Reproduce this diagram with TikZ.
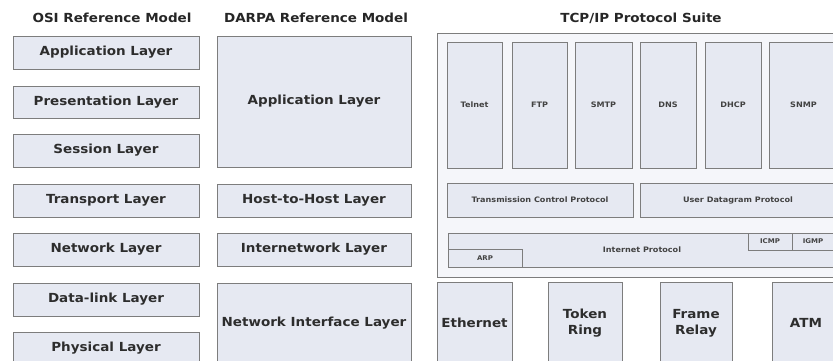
\documentclass[tikz,border=0pt]{standalone}
\usepackage{fontspec}
\setmainfont{DejaVu Sans}[FakeStretch=1.08]

\definecolor{boxfill}{RGB}{230,233,242}
\definecolor{boxline}{RGB}{125,125,125}
\definecolor{suitefill}{RGB}{245,246,250}
\definecolor{labeltext}{RGB}{45,45,45}

\tikzset{
  layer/.style={draw=boxline, fill=boxfill, line width=0.9pt, inner sep=0pt,
    font=\fontsize{12.5}{16}\selectfont\bfseries, text=labeltext, align=center},
  proto/.style={layer, font=\fontsize{7.5}{9}\selectfont\bfseries, text=labeltext!90},
  smallproto/.style={layer, font=\fontsize{6.5}{8}\selectfont\bfseries, text=labeltext!90},
  heading/.style={font=\fontsize{12.5}{15}\selectfont\bfseries, text=black!85},
  suite/.style={draw=boxline, fill=suitefill, line width=0.9pt, inner sep=0pt},
}

% \tile[style]{name}{x1}{y1}{x2}{y2}{text}: a box spanning two corners
\newcommand\tile[7][layer]{%
  \pgfmathsetmacro\tilew{#5-#3}%
  \pgfmathsetmacro\tileh{#6-#4}%
  \pgfmathsetmacro\tilex{(#3+#5)/2}%
  \pgfmathsetmacro\tiley{(#4+#6)/2}%
  \node[#1, minimum width=\tilew pt, minimum height=\tileh pt, anchor=center]
    (#2) at (\tilex,\tiley) {#7};%
}

\begin{document}
\begin{tikzpicture}[x=1pt,y=-1pt]
\useasboundingbox (0,0) rectangle (833,360);
\clip (0,0) rectangle (833,360);
\fill[white] (0,0) rectangle (833,360);

% column headings
\node[heading] (hosi)   at (112,18) {OSI Reference Model};
\node[heading] (hdarpa) at (316,18) {DARPA Reference Model};
\node[heading] (htcp)   at (641,18) {TCP/IP Protocol Suite};

% OSI reference model
\tile{osiapp}{13}{36}{199}{69}{Application Layer}
\tile{osipres}{13}{86}{199}{118}{Presentation Layer}
\tile{osisess}{13}{134}{199}{167}{Session Layer}
\tile{ositrans}{13}{184}{199}{217}{Transport Layer}
\tile{osinet}{13}{233}{199}{266}{Network Layer}
\tile{osidl}{13}{283}{199}{316}{Data-link Layer}
\tile{osiphy}{13}{332}{199}{364}{Physical Layer}

% DARPA reference model
\tile{dapp}{217}{36}{411}{167}{Application Layer}
\tile{dhost}{217}{184}{411}{217}{Host-to-Host Layer}
\tile{dinet}{217}{233}{411}{266}{Internetwork Layer}
\tile{dnif}{217}{283}{411}{364}{Network Interface Layer}

% TCP/IP protocol suite
\tile[suite]{suite}{437}{33}{845}{277}{}

\tile[proto]{telnet}{447}{42}{502}{168}{Telnet}
\tile[proto]{ftp}{512}{42}{567}{168}{FTP}
\tile[proto]{smtp}{575}{42}{632}{168}{SMTP}
\tile[proto]{dns}{640}{42}{696}{168}{DNS}
\tile[proto]{dhcp}{705}{42}{761}{168}{DHCP}
\tile[proto]{snmp}{769}{42}{838}{168}{SNMP}

\tile[proto]{tcp}{447}{183}{633}{217}{Transmission Control Protocol}
\tile[proto]{udp}{640}{183}{836}{217}{User Datagram Protocol}

\tile[proto]{ip}{448}{233}{836}{267}{Internet Protocol}
\tile[smallproto]{arp}{448}{249}{522}{267}{ARP}
\tile[smallproto]{icmp}{748}{233}{792}{250}{ICMP}
\tile[smallproto]{igmp}{792}{233}{834}{250}{IGMP}

% network access technologies
\tile{eth}{437}{282}{512}{364}{Ethernet}
\tile{token}{548}{282}{622}{364}{Token\\Ring}
\tile{frame}{660}{282}{732}{364}{Frame\\Relay}
\tile{atm}{772}{282}{840}{364}{ATM}
\end{tikzpicture}
\end{document}
